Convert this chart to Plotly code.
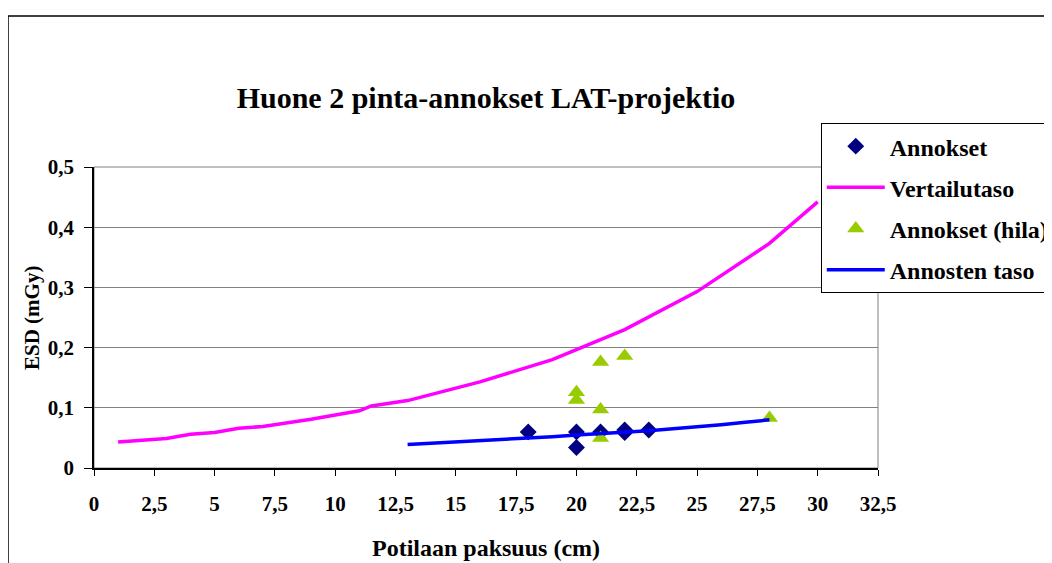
import plotly.graph_objects as go

# Vertailutaso (reference level)
ref_x = [1, 3, 4, 5, 6, 7, 9, 11, 11.5, 13, 16, 19, 22, 25, 28, 30]
ref_y = [0.043, 0.049, 0.056, 0.059, 0.066, 0.069, 0.081, 0.095, 0.103, 0.112,
         0.143, 0.180, 0.230, 0.293, 0.373, 0.442]

# Annokset (doses)
dose_x = [18, 20, 20, 21, 22, 22, 23]
dose_y = [0.060, 0.060, 0.034, 0.060, 0.063, 0.059, 0.063]

# Annokset (hila)
grid_x = [20, 20, 21, 22, 21, 21, 28]
grid_y = [0.126, 0.113, 0.176, 0.186, 0.097, 0.050, 0.083]

# Annosten taso (dose level)
lvl_x = [13, 14, 15, 16, 17, 18, 19, 20, 21, 22, 23, 24, 25, 26, 27, 28]
lvl_y = [0.039, 0.041, 0.043, 0.045, 0.047, 0.050, 0.052, 0.055, 0.057, 0.060,
         0.062, 0.065, 0.068, 0.072, 0.076, 0.080]

x_ticks = [0, 2.5, 5, 7.5, 10, 12.5, 15, 17.5, 20, 22.5, 25, 27.5, 30, 32.5]
y_ticks = [0, 0.1, 0.2, 0.3, 0.4, 0.5]

FONT = "Liberation Serif"

fig = go.Figure()
fig.add_trace(go.Scatter(x=dose_x, y=dose_y, mode="markers", name="Annokset",
                         legendgroup="a",
                         marker=dict(symbol="diamond", size=13, color="#000080")))
fig.add_trace(go.Scatter(x=ref_x, y=ref_y, mode="lines", name="Vertailutaso",
                         legendgroup="b",
                         line=dict(color="#FF00FF", width=3.5)))
fig.add_trace(go.Scatter(x=grid_x, y=grid_y, mode="markers", name="Annokset (hila)",
                         legendgroup="c",
                         marker=dict(symbol="triangle-up", size=15, color="#99CC00")))
fig.add_trace(go.Scatter(x=lvl_x, y=lvl_y, mode="lines", name="Annosten taso",
                         legendgroup="d",
                         line=dict(color="#0000FF", width=3.5)))

# page has an 8px body margin: figure coords = screen coords - 8
fig.update_layout(
    width=1052, height=563,
    margin=dict(l=86, r=182, t=159, b=103, autoexpand=False),
    paper_bgcolor="white", plot_bgcolor="white",
    separators=", ",
    font=dict(family=FONT, color="black", size=20, weight="bold"),
    title=dict(text="Huone 2 pinta-annokset LAT-projektio",
               x=0.5, xref="paper", xanchor="center",
               y=1 - 89 / 563, yref="container", yanchor="middle",
               font=dict(family=FONT, size=30, color="black", weight="bold")),
    legend=dict(x=0.927, y=1.146, xanchor="left", yanchor="top",
                bgcolor="white", bordercolor="black", borderwidth=1,
                font=dict(family=FONT, size=24, color="black", weight="bold"),
                tracegroupgap=7, itemwidth=58),
    showlegend=True,
)

fig.update_xaxes(range=[0, 32.5], tickvals=x_ticks, showgrid=False, zeroline=False,
                 showline=True, linecolor="black", linewidth=1.5,
                 ticks="outside", ticklen=6, tickcolor="black",
                 ticklabelstandoff=10,
                 tickfont=dict(family=FONT, size=21, color="black", weight="bold"))
fig.update_yaxes(range=[0, 0.5], tickvals=y_ticks, showgrid=True, gridcolor="#808080",
                 gridwidth=1, zeroline=False,
                 showline=True, linecolor="black", linewidth=1.5,
                 ticks="outside", ticklen=8, tickcolor="black",
                 ticklabelstandoff=6,
                 tickfont=dict(family=FONT, size=21, color="black", weight="bold"))

# plot area border (gray) and chart border (black)
fig.add_shape(type="rect", xref="paper", yref="paper", x0=0, y0=0, x1=1, y1=1,
              line=dict(color="#808080", width=1), layer="below")
fig.add_shape(type="rect", xref="paper", yref="paper", x0=-0.1097, y0=-0.36,
              x1=1.3, y1=1.5017, line=dict(color="black", width=1.5), layer="above")

fig.add_annotation(text="Potilaan paksuus (cm)", xref="paper", yref="paper",
                   x=0.5, y=(468 - 548) / 301, xanchor="center", yanchor="middle",
                   showarrow=False,
                   font=dict(family=FONT, size=24, color="black", weight="bold"))
fig.add_annotation(text="ESD (mGy)", xref="paper", yref="paper",
                   x=(32 - 94) / 784, y=(468 - 318) / 301, xanchor="center",
                   yanchor="middle", textangle=-90, showarrow=False,
                   font=dict(family=FONT, size=21, color="black", weight="bold"))

fig.write_html("out.html")
